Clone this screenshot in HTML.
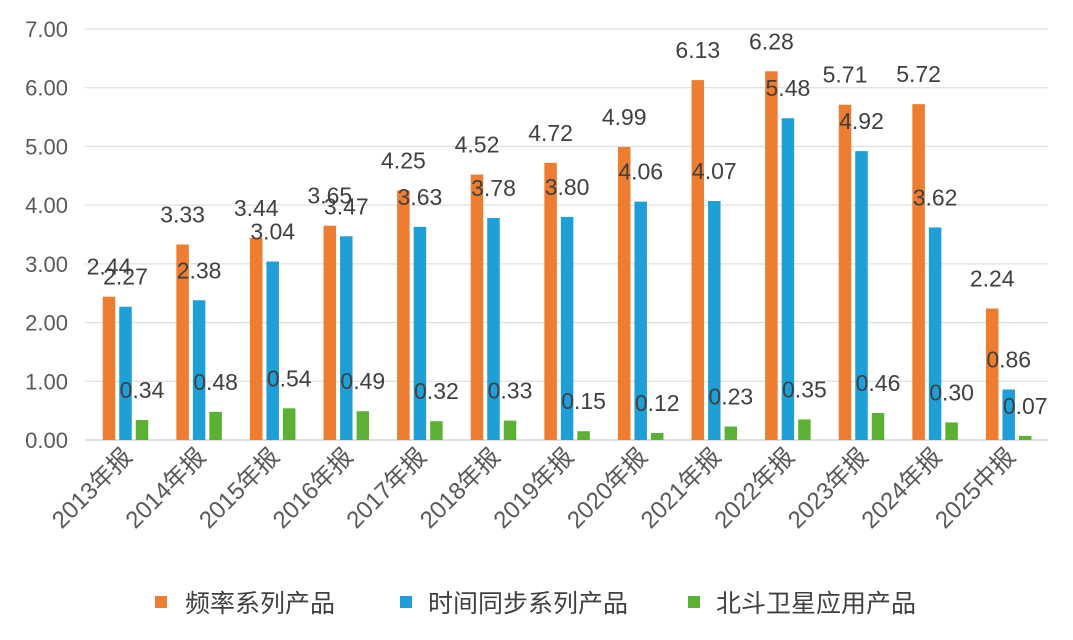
<!DOCTYPE html>
<html><head><meta charset="utf-8"><style>
body{margin:0;background:#fff;}
svg text{font-family:"Liberation Sans","Noto Sans CJK SC",sans-serif;}
</style></head><body>
<svg id="chart" width="1073" height="635" xmlns="http://www.w3.org/2000/svg">
<rect width="1073" height="635" fill="#fff"/>
<g id="grid"></g><g id="bars"></g><g id="labels"></g><g id="xlabels"></g>
<g id="legend">
 <rect x="155" y="596" width="12" height="12" fill="#ED7D31"/>
 <text x="185" y="612" font-size="25" fill="#404040">频率系列产品</text>
 <rect x="400" y="596" width="12" height="12" fill="#1E9FD8"/>
 <text x="428" y="612" font-size="25" fill="#404040">时间同步系列产品</text>
 <rect x="688" y="596" width="12" height="12" fill="#5CB135"/>
 <text x="716" y="612" font-size="25" fill="#404040">北斗卫星应用产品</text>
</g>
</svg>
<script>
const categories=["2013年报","2014年报","2015年报","2016年报","2017年报","2018年报","2019年报","2020年报","2021年报","2022年报","2023年报","2024年报","2025中报"];
const freq=[2.44,3.33,3.44,3.65,4.25,4.52,4.72,4.99,6.13,6.28,5.71,5.72,2.24];
const timeSync=[2.27,2.38,3.04,3.47,3.63,3.78,3.80,4.06,4.07,5.48,4.92,3.62,0.86];
const beidou=[0.34,0.48,0.54,0.49,0.32,0.33,0.15,0.12,0.23,0.35,0.46,0.30,0.07];
const yTicks=[0,1,2,3,4,5,6,7];
const NS="http://www.w3.org/2000/svg";
const x0=88.7,gridR=1048,y0=440,yTop=29,yMax=7;
const band=73.6;
function y(v){return y0-(v/yMax)*(y0-yTop);}
function xc(i){return x0+band*(i+0.5);}
function mk(tag,attrs,parent){const e=document.createElementNS(NS,tag);for(const k in attrs)e.setAttribute(k,attrs[k]);document.getElementById(parent).appendChild(e);return e;}
yTicks.forEach(t=>{
 const l=mk('line',{x1:85,x2:gridR,y1:y(t),y2:y(t),stroke:t===0?'#BFBFBF':'#D9D9D9','stroke-width':1},'grid');
 
 
 const tx=mk('text',{x:68,y:y(t)+8,'text-anchor':'end','font-size':22,fill:'#595959'},'grid');
 tx.textContent=t.toFixed(2);
 
 
});
const series=[[freq,'#ED7D31','frequency'],[timeSync,'#1E9FD8','time-sync'],[beidou,'#5CB135','beidou']];
const bw=12.5,off=[-16.5,0,16.5];
categories.forEach((c,i)=>{
 series.forEach((s,j)=>{
  const v=s[0][i],cx=xc(i)+off[j];
  const r=mk('rect',{x:cx-bw/2,y:y(v),width:bw,height:y0-y(v),fill:s[1]},'bars');
  
  
  const t=mk('text',{x:cx,y:y(v)-22,'text-anchor':'middle','font-size':23,fill:'#404040'},'labels');
  t.textContent=v.toFixed(2);
  
  
 });
 const lx=xc(i)+8,ly=458;
 const t=mk('text',{x:lx,y:ly,'text-anchor':'end','font-size':24,fill:'#595959',transform:`rotate(-45 ${lx} ${ly})`},'xlabels');
 t.textContent=c;
 
 
});
</script>
</body></html>
